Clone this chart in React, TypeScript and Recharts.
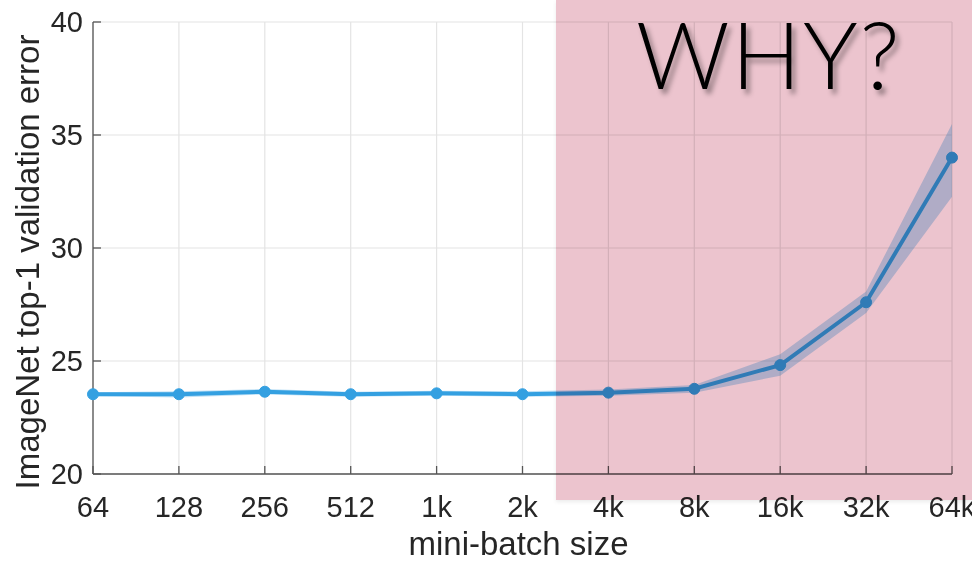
import { ComposedChart, Line, Area, XAxis, YAxis, CartesianGrid } from "recharts"

const batchSizes = [64, 128, 256, 512, 1024, 2048, 4096, 8192, 16384, 32768, 65536]
const batchLabels = ["64", "128", "256", "512", "1k", "2k", "4k", "8k", "16k", "32k", "64k"]
const meanError = [23.53, 23.53, 23.64, 23.53, 23.57, 23.53, 23.6, 23.77, 24.82, 27.6, 34.0]
const lowError = [23.45, 23.38, 23.52, 23.42, 23.46, 23.42, 23.46, 23.6, 24.35, 27.12, 32.27]
const highError = [23.62, 23.66, 23.76, 23.64, 23.68, 23.66, 23.74, 23.94, 25.3, 28.07, 35.49]
const yTicks = [20, 25, 30, 35, 40]

const data = batchSizes.map((b, i) => ({
  x: Math.log2(b),
  label: batchLabels[i],
  mean: meanError[i],
  band: [lowError[i], highError[i]],
}))

const xTicks = data.map((d) => d.x)
const labelFor = (v: number) => data.find((d) => d.x === v)?.label ?? ""

const FONT = "'Liberation Sans', Arial, Helvetica, sans-serif"
const TEXT = "#262626"
const AXIS = "#555555"
const LINE = "#34a0e1"

const XTick = ({ x, y, payload }: any) => (
  <g>
    <line x1={x} y1={y} x2={x} y2={y - 8} stroke={AXIS} strokeWidth={1.3} />
    <text x={x} y={y + 43} textAnchor="middle" fontSize={29} fontFamily={FONT} fill={TEXT}>
      {labelFor(payload.value)}
    </text>
  </g>
)

const YTick = ({ x, y, payload }: any) => (
  <g>
    <line x1={x} y1={y} x2={x + 8} y2={y} stroke={AXIS} strokeWidth={1.3} />
    <text x={x - 10} y={y + 10} textAnchor="end" fontSize={29} fontFamily={FONT} fill={TEXT}>
      {payload.value}
    </text>
  </g>
)

export default function App() {
  return (
    <div style={{ position: "absolute", left: 0, top: 0, width: 972, height: 562, background: "#fff", overflow: "hidden" }}>
      <ComposedChart width={972} height={562} data={data} margin={{ top: 22, right: 20, bottom: 0, left: 0 }}>
        <CartesianGrid stroke="#e4e4e4" strokeWidth={1.2} />
        <XAxis
          dataKey="x"
          type="number"
          domain={[6, 16]}
          ticks={xTicks}
          height={88}
          stroke={AXIS}
          strokeWidth={1.3}
          tickLine={false}
          tickSize={0}
          tickMargin={0}
          tick={<XTick />}
          label={{
            content: ({ viewBox }: any) => (
              <text
                x={viewBox.x + viewBox.width / 2 - 4}
                y={555}
                textAnchor="middle"
                fontSize={33}
                fontFamily={FONT}
                fill={TEXT}
              >
                mini-batch size
              </text>
            ),
          }}
        />
        <YAxis
          type="number"
          domain={[20, 40]}
          ticks={yTicks}
          width={93}
          stroke={AXIS}
          strokeWidth={1.3}
          tickLine={false}
          tickSize={0}
          tickMargin={0}
          tick={<YTick />}
          label={{
            content: ({ viewBox }: any) => (
              <text
                x={0}
                y={0}
                transform={`translate(39, ${viewBox.y + viewBox.height / 2 + 14}) rotate(-90)`}
                textAnchor="middle"
                fontSize={33}
                fontFamily={FONT}
                fill={TEXT}
              >
                ImageNet top-1 validation error
              </text>
            ),
          }}
        />
        <Area
          dataKey="band"
          type="linear"
          stroke="none"
          fill={LINE}
          fillOpacity={0.32}
          isAnimationActive={false}
          activeDot={false}
        />
        <Line
          dataKey="mean"
          type="linear"
          stroke={LINE}
          strokeWidth={4}
          dot={{ r: 5.5, fill: LINE, stroke: LINE, strokeWidth: 1 }}
          activeDot={false}
          isAnimationActive={false}
        />
      </ComposedChart>
      <div
        style={{
          position: "absolute",
          left: 556,
          top: 0,
          width: 416,
          height: 500,
          background: "#ecc4ce",
          mixBlendMode: "multiply",
          boxShadow: "0 2px 4px rgba(0,0,0,0.08)",
        }}
      />
      <div
        style={{
          position: "absolute",
          left: 636,
          top: 8,
          fontFamily: "Lato, 'Noto Sans', sans-serif",
          fontWeight: 300,
          fontSize: 92,
          lineHeight: "92px",
          letterSpacing: 2,
          whiteSpace: "nowrap",
          color: "#000",
          textShadow: "4px 5px 5px rgba(0,0,0,0.35)",
        }}
      >
        WHY?
      </div>
    </div>
  )
}
